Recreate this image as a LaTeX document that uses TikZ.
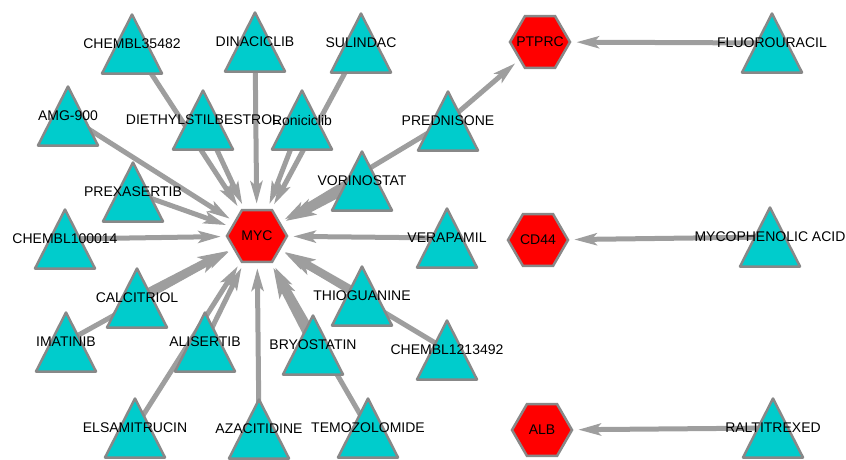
\documentclass[tikz,border=0pt]{standalone}
\usepackage{fontspec}
\setmainfont{Liberation Sans}
\usepackage{xcolor}
\usetikzlibrary{shapes,arrows.meta,backgrounds}
\definecolor{drugcyan}{RGB}{0,204,204}
\definecolor{linegray}{RGB}{158,158,158}
\definecolor{rimgray}{RGB}{136,136,136}

\begin{document}
\begin{tikzpicture}[x=1pt, y=-1pt, font=\fontsize{14}{16}\selectfont,
    drug/.style={rectangle, inner sep=0pt, minimum width=66pt, minimum height=65pt,
        path picture={\filldraw[fill=drugcyan, draw=rimgray, line width=2.5pt, line join=round]
            ([shift={(-30pt,-29.5pt)}]path picture bounding box.center)
            -- ([shift={(30pt,-29.5pt)}]path picture bounding box.center)
            -- ([shift={(0pt,29.5pt)}]path picture bounding box.center) -- cycle;}},
    gene/.style={regular polygon, regular polygon sides=6, minimum size=60pt, inner sep=0pt,
        fill=red, draw=rimgray, line width=2.5pt},
    link/.style={draw=linegray, line width=5pt, shorten >=5pt,
        -{Stealth[length=10pt 2.5, width=4pt 1.6, inset=2pt 0.6]}},
    heavy/.style={link, line width=8pt}]
    \useasboundingbox (0, 0) rectangle (846, 459);

    % Targets
    \node[gene] (myc) at (257, 236) {\makebox[0pt]{MYC}};
    \node[gene] (ptprc) at (540, 42) {\makebox[0pt]{PTPRC}};
    \node[gene] (cd44) at (538, 240) {\makebox[0pt]{CD44}};
    \node[gene] (alb) at (542, 430) {\makebox[0pt]{ALB}};

    % Drugs around MYC
    \node[drug] (chembl35482) at (132, 44) {CHEMBL35482};
    \node[drug] (dinaciclib) at (255, 42) {DINACICLIB};
    \node[drug] (sulindac) at (361, 43) {SULINDAC};
    \node[drug] (amg) at (68, 116) {AMG-900};
    \node[drug] (diethyl) at (203, 120) {DIETHYLSTILBESTROL};
    \node[drug] (roniciclib) at (302, 120) {Roniciclib};
    \node[drug] (prednisone) at (448, 121) {PREDNISONE};
    \node[drug] (prexasertib) at (133, 192) {PREXASERTIB};
    \node[drug] (vorinostat) at (362, 181) {VORINOSTAT};
    \node[drug] (chembl100014) at (65, 239) {CHEMBL100014};
    \node[drug] (verapamil) at (447, 238) {VERAPAMIL};
    \node[drug] (calcitriol) at (137, 298) {CALCITRIOL};
    \node[drug] (thioguanine) at (362, 296) {THIOGUANINE};
    \node[drug] (imatinib) at (66, 342) {IMATINIB};
    \node[drug] (alisertib) at (205, 342) {ALISERTIB};
    \node[drug] (bryostatin) at (313, 345) {BRYOSTATIN};
    \node[drug] (chembl1213492) at (447, 350) {CHEMBL1213492};
    \node[drug] (elsamitrucin) at (135, 428) {ELSAMITRUCIN};
    \node[drug] (azacitidine) at (259, 429) {AZACITIDINE};
    \node[drug] (temozolomide) at (368, 428) {TEMOZOLOMIDE};

    % Drugs on the right
    \node[drug] (fluorouracil) at (772, 43) {FLUOROURACIL};
    \node[drug] (mycophenolic) at (770, 237) {MYCOPHENOLIC ACID};
    \node[drug] (raltitrexed) at (773, 428) {RALTITREXED};

    % Edges
    \begin{pgfonlayer}{background}
        \draw[link] (chembl35482.center) -- (myc);
        \draw[link] (dinaciclib.center) -- (myc);
        \draw[link] (sulindac.center) -- (myc);
        \draw[link] (amg.center) -- (myc);
        \draw[link] (diethyl.center) -- (myc);
        \draw[link] (roniciclib.center) -- (myc);
        \draw[link] (prednisone.center) -- (myc);
        \draw[link] (prexasertib.center) -- (myc);
        \draw[heavy] (vorinostat.center) -- (myc);
        \draw[link] (chembl100014.center) -- (myc);
        \draw[link] (verapamil.center) -- (myc);
        \draw[heavy] (calcitriol.center) -- (myc);
        \draw[heavy] (thioguanine.center) -- (myc);
        \draw[link] (imatinib.center) -- (myc);
        \draw[link] (alisertib.center) -- (myc);
        \draw[heavy] (bryostatin.center) -- (myc);
        \draw[link] (chembl1213492.center) -- (myc);
        \draw[link] (elsamitrucin.center) -- (myc);
        \draw[link] (azacitidine.center) -- (myc);
        \draw[link] (temozolomide.center) -- (myc);
        \draw[link] (prednisone.center) -- (ptprc);
        \draw[link] (fluorouracil.center) -- (ptprc);
        \draw[link] (mycophenolic.center) -- (cd44);
        \draw[link] (raltitrexed.center) -- (alb);
    \end{pgfonlayer}
\end{tikzpicture}
\end{document}
